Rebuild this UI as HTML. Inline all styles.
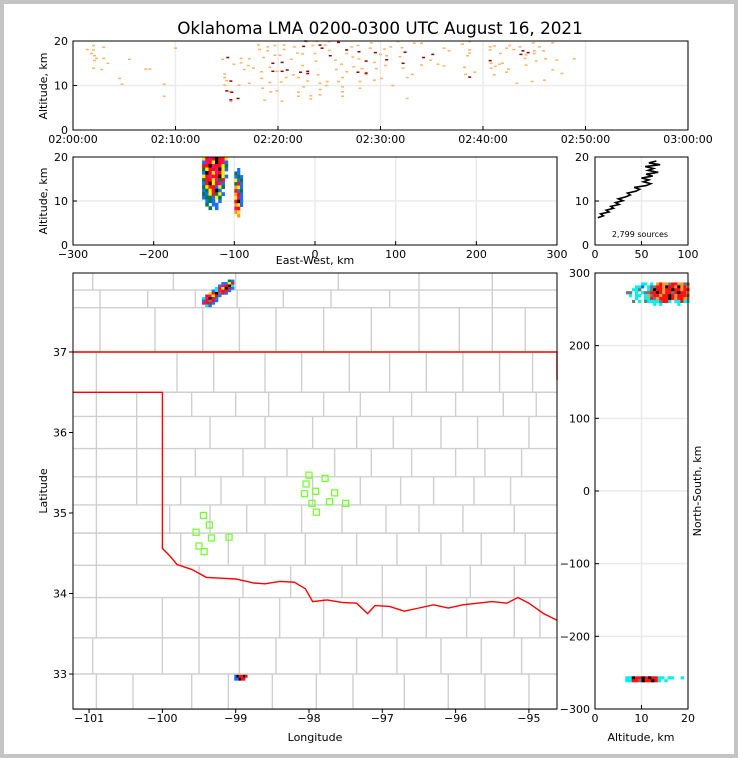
<!DOCTYPE html>
<html><head><meta charset="utf-8"><style>
html,body{margin:0;padding:0;background:#c4c4c4;}
svg{display:block;font-family:"DejaVu Sans","Liberation Sans",sans-serif;}
</style></head><body>
<svg id="fig" width="738" height="758" viewBox="0 0 738 758">
<rect x="4" y="4" width="730" height="750" fill="#fff"/>
<text x="380" y="34" font-size="16.8" text-anchor="middle">Oklahoma LMA 0200-0300 UTC August 16, 2021</text>
<g id="layer"></g>
</svg>
<script>
// ---- data ----
const timeOrange = [[2,19],[1.4,18.1],[2,18],[1.8,17.2],[2.1,16.7],[2.3,16.1],[3,16.1],[3.4,15],[3,18.6],[2,13.9],[2.8,13.6],[2.1,15.6],[4.55,11.6],[4.8,10.3],[5.5,15.9],[7.1,13.7],[7.5,13.7],[10,18.4],[8.9,10.3],[8.9,7.6],
[14.6,15.9],[14.8,12.6],[14.8,11.8],[14.8,10.1],[15,11.1],[15.3,8.6],[16.2,10.1],[16.4,15.1],[15.7,14.8],[15.4,6.4],[16.4,16.1],[16.7,13.6],[17.1,14.5],[17.2,16],[17.2,10.5],[17.6,13.9],[18.1,19.1],[18.2,18.1],[18.4,13.1],[18.4,11.6],[18.5,9.4],[18.6,16.3],[18.7,6.7],[19,18.7],[19,17.8],[19.2,14.1],[19.2,10.7],[19.3,8.6],[19.7,16.8],[19.7,19],[19.9,13.2],[19.9,8.8],[20.2,16.8],[20.3,10.8],[20.4,6.5],[20.6,19.1],[20.6,18.1],[20.8,11.8],[21.3,15.9],[21.5,12.4],[21.6,18.7],[21.9,17.3],[22,11.8],[22,8.5],[22,7.6],[22.4,17.1],[22.4,14.5],[22.5,9.7],[22.8,19.9],[22.9,11],[23.2,7.7],[23.2,7],[23.4,19],[23.6,17.2],[23.7,15.5],[23.8,19.9],[23.9,12.4],[24.1,10.5],[24.1,9.1],[24.1,7.9],[24.6,19.1],[24.7,10],[24.8,10.9],[25,19.9],[25,17.9],[25.6,15.7],[25.7,13.6],[25.9,10.9],[26.2,14.8],[26.3,9.7],[26.3,8.6],[26.3,7.6],[26.3,11.8],[26.7,17.2],[26.7,13.1],[27.2,18.7],[27.3,16.4],[27.4,14.2],[27.8,19],[27.9,16],[28,10.9],[28,9.4],[28.2,13.8],[28.6,12.5],[29,18.4],[29.1,19.6],[29.4,15.2],[29.4,11.2],[29.6,13.8],[30,17],[30.1,11.6],[30.4,18.2],[30.5,14.5],[30.6,16.7],[31,18.7],[31.2,10],[31.7,19.9],[31.9,16.5],[32.1,18.5],[32.2,13.9],[32.6,11.8],[32.6,7.1],[33.1,12.5],[33.3,19.5],[34,19.5],[34,14.6],[34.9,15.7],[35.6,14.8],[36.2,18.4],[36.2,14.4],[36.7,17.8],[38,19.3],[38.2,14.1],[38.3,12.5],[38.5,16.7],[38.7,19.9],[38.7,18],[38.7,17.3],[39.2,13],[40.7,18.7],[40.7,18],[40.8,15],[40.8,13.9],[41.1,12.4],[41.1,18.9],[41.2,14.3],[41.6,14.8],[41.7,17.2],[41.9,15],[42.3,18.4],[42.3,13],[42.5,13.7],[42.6,19],[43,18.1],[43.3,10.5],[43.6,18.7],[44.1,16.1],[44.2,14.6],[44.2,16.9],[44.9,19.6],[45,17.8],[45,17.2],[45.2,15.5],[45.5,18.7],[45.9,17.8],[46,11.2],[46.1,16],[46.8,19.6],[46.8,13.5],[47.2,15.7],[47.7,12.7],[48.9,16],[44.8,10.9]];
const timeDark = [[15.1,16.3],[15.4,11],[15,8.8],[15.5,8.5],[16.1,7.1],[15.4,6.8],[19.5,15],[20.4,15.2],[19.5,13.2],[20.4,13.2],[20.9,13.5],[22.2,13],[22.9,13.2],[22.9,12.7],[22.5,18.8],[22.7,20],[24.1,19.1],[24.3,18.4],[25.1,16.7],[25.9,19.7],[26.7,18],[27.9,17.6],[28.6,15.5],[27.8,13],[28.6,12.8],[29.5,17.4],[30.6,15.8],[32.2,15],[32.4,17.5],[34.2,16.3],[35.1,17],[38.7,11.9],[40.7,15.6],[43.9,17.8],[43.7,17],[44.4,17.4]];
const timeTicks = ["02:00:00","02:10:00","02:20:00","02:30:00","02:40:00","02:50:00","03:00:00"];
const ewGridA = ["yrprkrry","bprykrpb","rrkprryg","gyrrpkyb","bkrypry.","yrprrkyb","grrypgr.","brkyrpb.","gyrrbyg.","bgyrkb..","gbyrgyb.","bggbyg..",".bgb.b..",".g.bb...","..g.b..."];
const ewGridB = [".b.","gb.","bgb","ybg","grb","oyb","rbg","orb","ypb","rkb","oyb","pr.","oy.",".o."];
const histAlt0 = 6.2;
const histCounts = [3,9,6,15,12,20,17,26,22,30,25,33,38,35,44,48,42,55,60,52,58,50,62,55,68,57,63,54,70,58,66];
const greenLon = [-99.44,-99.36,-99.54,-99.33,-99.50,-99.43,-99.09,-98.0,-97.78,-98.04,-98.06,-97.91,-97.65,-97.96,-97.72,-97.50,-97.90];
const greenLat = [34.97,34.85,34.76,34.69,34.59,34.52,34.70,35.47,35.43,35.36,35.24,35.27,35.25,35.12,35.14,35.12,35.01];
const mapGridTop = ["........gb.","......bbyr.",".....bprkc.","....crykrb.","...bcprrb..","..yrksrb...",".rpyrb.....","cpkrb......","brsrb......","prrb.......",".cb........"];
const mapGridBot = ["bkrrkr","bbkrr."];
const redRiver = [[-100,34.56],[-99.9,34.47],[-99.8,34.36],[-99.6,34.3],[-99.4,34.2],[-99.2,34.19],[-99.0,34.18],[-98.75,34.13],[-98.6,34.12],[-98.4,34.15],[-98.2,34.14],[-98.05,34.06],[-97.95,33.9],[-97.75,33.92],[-97.55,33.89],[-97.35,33.88],[-97.2,33.75],[-97.1,33.85],[-96.9,33.84],[-96.7,33.78],[-96.5,33.82],[-96.3,33.86],[-96.1,33.82],[-95.9,33.86],[-95.7,33.88],[-95.5,33.9],[-95.3,33.88],[-95.15,33.95],[-95.0,33.88],[-94.8,33.75],[-94.62,33.67]];
const nsGridTop = ["......cc.c.oroosrrooss","....ccb.cssrrokrrokoro","...ccs..cskrrorrkrrorr",".ss.c.cssrrkrorrsrkrro","..c.cc.cosrrorrkrorrrs","....c..ccrsorrrkrorroo","...s.c.sccccsrrc.ccrcc","..........c.c.....c..."];
const nsGridBot = ["cckrrkrkrrcc.cc..c","ccrrskrrkrc.c....."];
const colors = {b:"#1a6fff",g:"#007a45",c:"#00f0f0",y:"#ffee00",o:"#ff9a30",r:"#ff1010",p:"#ff0a8a",k:"#000000",s:"#6a7a7a"};

const NS="http://www.w3.org/2000/svg";
const L=document.getElementById('layer');
function el(t,a,p){const e=document.createElementNS(NS,t);for(const k in a)e.setAttribute(k,a[k]);(p||L).appendChild(e);return e;}
function lin(d0,d1,r0,r1){return v=>r0+(v-d0)/(d1-d0)*(r1-r0);}
function txt(x,y,s,anchor,size,rot){const e=el('text',{x:x,y:y,'font-size':size||11,'text-anchor':anchor||'middle'});if(rot)e.setAttribute('transform','rotate(-90 '+x+' '+y+')');e.textContent=s;return e;}

{const X=lin(0,60,73,688),Y=lin(0,20,130,41);
const g=el('g',{});
for(let i=0;i<=6;i++){el('line',{x1:X(i*10),x2:X(i*10),y1:41,y2:130,stroke:'#ebebeb','stroke-width':1.5},g);}
el('line',{x1:73,x2:688,y1:Y(10),y2:Y(10),stroke:'#ebebeb','stroke-width':1.5},g);
timeOrange.forEach(p=>{const r=el('rect',{x:X(p[0])-1.5,y:Y(p[1])-0.7,width:3,height:1.5,fill:'#ffb366'},g);});
timeDark.forEach(p=>{const r=el('rect',{x:X(p[0])-1.5,y:Y(p[1])-0.7,width:3,height:1.5,fill:'#8b0000'},g);});
el('rect',{x:73,y:41,width:615,height:89,fill:'none',stroke:'#000'},g);
timeTicks.forEach((t,i)=>{el('line',{x1:X(i*10),x2:X(i*10),y1:130,y2:126,stroke:'#000'},g);const e=txt(X(i*10),143,t);});
[0,10,20].forEach(v=>{el('line',{x1:73,x2:77,y1:Y(v),y2:Y(v),stroke:'#000'},g);txt(68,Y(v)+4,String(v),'end');});
const yl=txt(47,86,'Altitude, km','middle',11,true);}

{const X=lin(-300,300,73,557),Y=lin(0,20,245,157);
const g=el('g',{});
[-300,-200,-100,0,100,200,300].forEach(v=>el('line',{x1:X(v),x2:X(v),y1:157,y2:245,stroke:'#ebebeb','stroke-width':1.5},g));
el('line',{x1:73,x2:557,y1:Y(10),y2:Y(10),stroke:'#ebebeb','stroke-width':1.5},g);
function grid(rows,ew0,dew,alt0,dalt){rows.forEach((row,ri)=>{[...row].forEach((ch,ci)=>{if(ch==='.')return;const x=X(ew0+ci*dew),y=Y(alt0-ri*dalt);const r=el('rect',{x:x,y:y,width:X(ew0+dew)-X(ew0)+0.3,height:Y(0)-Y(dalt)+0.3,fill:colors[ch]},g);});});}
grid(ewGridA,-140,4,20,0.8);grid(ewGridB,-100,3.5,17.5,0.8);
el('rect',{x:73,y:157,width:484,height:88,fill:'none',stroke:'#000'},g);
[-300,-200,-100,0,100,200,300].forEach(v=>{el('line',{x1:X(v),x2:X(v),y1:245,y2:241,stroke:'#000'},g);txt(X(v),258,String(v).replace('-','\u2212'));});
[0,10,20].forEach(v=>{el('line',{x1:73,x2:77,y1:Y(v),y2:Y(v),stroke:'#000'},g);txt(68,Y(v)+4,String(v),'end');});
const yl=txt(47,201,'Altitude, km','middle',11,true);
const xl=txt(315,264,'East-West, km');}

{const X=lin(0,100,595,688),Y=lin(0,20,245,157);
const g=el('g',{});
[0,50,100].forEach(v=>el('line',{x1:X(v),x2:X(v),y1:157,y2:245,stroke:'#ebebeb','stroke-width':1.5},g));
el('line',{x1:595,x2:688,y1:Y(10),y2:Y(10),stroke:'#ebebeb','stroke-width':1.5},g);
const pts=histCounts.map((c,i)=>X(c).toFixed(1)+','+Y(histAlt0+i*0.43).toFixed(1)).join(' ');
const pl=el('polyline',{points:pts,fill:'none',stroke:'#000','stroke-width':1.6},g);
el('rect',{x:595,y:157,width:93,height:88,fill:'none',stroke:'#000'},g);
[0,50,100].forEach(v=>{el('line',{x1:X(v),x2:X(v),y1:245,y2:241,stroke:'#000'},g);txt(X(v),258,String(v));});
[0,10,20].forEach(v=>{el('line',{x1:595,x2:599,y1:Y(v),y2:Y(v),stroke:'#000'},g);txt(589,Y(v)+4,String(v),'end');});
const s=txt(640,237,'2,799 sources','middle',8);}

{const X=lin(-101.219,-94.617,73,557),Y=lin(37,33,352,674);
const g=el('g',{});
const cg=el('g',{stroke:'#cfcfcf','stroke-width':1.4,fill:'none'},g);
const rows=[[37.98,37.77,[-100.95,-99.85,-99.0,-97.6,-96.5,-95.5]],[37.77,37.55,[-100.85,-100.2,-99.55,-98.98,-98.35,-97.7,-96.9,-96.5,-95.5]],[37.55,37.0,[-100.85,-100.1,-99.45,-98.95,-98.45,-97.8,-97.15,-96.5,-95.95,-95.5,-95.05]],
[37.0,36.5,[-100.9,-99.8,-99.3,-98.6,-98.1,-97.45,-96.9,-96.4,-95.9,-95.4,-94.95]],[36.5,36.2,[-100.9,-100.35,-99.6,-99.0,-98.55,-97.8,-97.3,-96.6,-96.0,-95.35,-94.9]],[36.2,35.8,[-100.9,-100.35,-99.35,-98.6,-97.95,-97.35,-96.85,-96.2,-95.7,-95.0]],[35.8,35.45,[-100.9,-100.35,-99.55,-98.9,-98.3,-97.65,-97.15,-96.6,-96.0,-95.6,-95.1]],
[35.45,35.1,[-100.9,-100.35,-99.75,-99.2,-98.6,-97.95,-97.3,-96.75,-96.3,-95.75,-95.25]],[35.1,34.75,[-100.9,-99.9,-99.35,-98.85,-98.1,-97.55,-96.95,-96.5,-95.9,-95.2]],[34.75,34.35,[-100.9,-99.75,-99.1,-98.6,-98.05,-97.35,-96.8,-96.2,-95.65,-95.05]],[34.35,33.95,[-100.9,-99.5,-98.9,-98.25,-97.55,-97.0,-96.4,-95.8,-95.2]],
[33.95,33.45,[-100.9,-100.0,-99.5,-98.95,-98.4,-97.8,-97.0,-96.4,-95.85,-95.2,-94.85]],[33.45,33.0,[-100.95,-100.0,-99.5,-98.95,-98.45,-97.85,-97.35,-96.8,-96.2,-95.65,-95.1]],[33.0,32.56,[-100.9,-100.4,-99.6,-99.1,-98.5,-97.9,-97.4,-96.7,-96.1,-95.6,-95.0]]];
rows.forEach(r=>{el('line',{x1:73,x2:557,y1:Y(r[1]),y2:Y(r[1])},cg);r[2].forEach(lon=>el('line',{x1:X(lon),x2:X(lon),y1:Y(r[0]),y2:Y(r[1])},cg));});
const bd=[[-101.219,36.5],[-100,36.5],[-100,34.56]].concat(redRiver);
const bp=el('polyline',{points:bd.map(p=>X(p[0]).toFixed(1)+','+Y(p[1]).toFixed(1)).join(' '),fill:'none',stroke:'#ff0000','stroke-width':1.4},g);
const nb=el('polyline',{points:X(-101.219)+','+Y(37)+' '+X(-94.617)+','+Y(37)+' '+X(-94.617)+','+Y(36.65),fill:'none',stroke:'#ff0000','stroke-width':1.4},g);
function grid(rows,lon0,dlon,lat0,dlat){rows.forEach((row,ri)=>{[...row].forEach((ch,ci)=>{if(ch==='.')return;const r=el('rect',{x:X(lon0+ci*dlon),y:Y(lat0-ri*dlat),width:X(lon0+dlon)-X(lon0)+0.2,height:Y(0)-Y(dlat)+0.2,fill:colors[ch]},g);});});}
grid(mapGridTop,-99.46,0.044,37.9,0.031);grid(mapGridBot,-99.02,0.03,32.99,0.035);
greenLon.forEach((lon,i)=>{const r=el('rect',{x:X(lon)-3,y:Y(greenLat[i])-3,width:6,height:6,fill:'none',stroke:'#77ff33','stroke-width':1.3},g);});
el('rect',{x:73,y:273,width:484,height:436,fill:'none',stroke:'#000'},g);
[-101,-100,-99,-98,-97,-96,-95].forEach(v=>{el('line',{x1:X(v),x2:X(v),y1:709,y2:713,stroke:'#000'},g);txt(X(v),722,String(v).replace('-','\u2212'));});
[33,34,35,36,37].forEach(v=>{el('line',{x1:69,x2:73,y1:Y(v),y2:Y(v),stroke:'#000'},g);txt(67,Y(v)+4,String(v),'end');});
const xl=txt(315,741,'Longitude');
const yl=txt(47,491,'Latitude','middle',11,true);}

{const X=lin(0,20,595,688),Y=lin(-300,300,709,273);
const g=el('g',{});
[0,10,20].forEach(v=>el('line',{x1:X(v),x2:X(v),y1:273,y2:709,stroke:'#ebebeb','stroke-width':1.5},g));
[-300,-200,-100,0,100,200,300].forEach(v=>el('line',{x1:595,x2:688,y1:Y(v),y2:Y(v),stroke:'#ebebeb','stroke-width':1.5},g));
function grid(rows,a0,da,n0,dn){rows.forEach((row,ri)=>{[...row].forEach((ch,ci)=>{if(ch==='.')return;const r=el('rect',{x:X(a0+ci*da),y:Y(n0-ri*dn),width:X(da)-X(0)+0.2,height:Y(0)-Y(dn)+0.2,fill:colors[ch]},g);});});}
grid(nsGridTop,6,0.65,287,4);grid(nsGridBot,6.5,0.7,-255,4);
el('rect',{x:595,y:273,width:93,height:436,fill:'none',stroke:'#000'},g);
[0,10,20].forEach(v=>{el('line',{x1:X(v),x2:X(v),y1:709,y2:705,stroke:'#000'},g);txt(X(v),722,String(v));});
[-300,-200,-100,0,100,200,300].forEach(v=>{el('line',{x1:595,x2:599,y1:Y(v),y2:Y(v),stroke:'#000'},g);txt(590,Y(v)+4,String(v).replace('-','\u2212'),'end');});
const xl=txt(641,741,'Altitude, km');
const yl=txt(701,491,'North-South, km','middle',11,true);}
</script>
</body></html>
